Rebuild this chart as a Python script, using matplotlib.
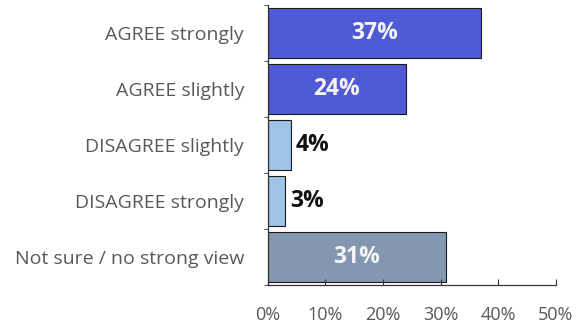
import matplotlib.pyplot as plt
from matplotlib.ticker import FuncFormatter

categories = ["AGREE strongly", "AGREE slightly", "DISAGREE slightly",
              "DISAGREE strongly", "Not sure / no strong view"]
values = [37, 24, 4, 3, 31]
bar_colors = ["#4F5BD5", "#4F5BD5", "#9DC3E6", "#9DC3E6", "#8497B0"]
label_inside = [True, True, False, False, True]
x_ticks = [0, 10, 20, 30, 40, 50]

plt.rcParams['font.family'] = ['Open Sans', 'DejaVu Sans']

fig = plt.figure(figsize=(5.81, 3.27), dpi=100)
ax = fig.add_axes([0.4608, 0.1284, 0.4957, 0.8563])

ypos = list(range(len(categories)))
ax.barh(ypos, values, height=0.89, color=bar_colors,
        edgecolor="#1a1a1a", linewidth=0.8)

for y, v, inside in zip(ypos, values, label_inside):
    if inside:
        ax.text(v / 2, y, f"{v}%", ha="center", va="center",
                color="#f4f4f4", fontsize=16.5, fontweight="bold")
    else:
        ax.text(v + 0.9, y, f"{v}%", ha="left", va="center",
                color="#111111", fontsize=16.5, fontweight="bold")

ax.set_xlim(0, 50)
ax.set_ylim(len(categories) - 0.5, -0.5)
ax.set_xticks(x_ticks)
ax.xaxis.set_major_formatter(FuncFormatter(lambda x, _: f"{x:.0f}%"))
ax.set_yticks(ypos)
ax.set_yticklabels(categories)

# category ticks sit on the boundaries between bars
ax.set_yticks([y + 0.5 for y in [-1] + ypos], minor=True)
ax.tick_params(axis="y", which="major", length=0, pad=17,
               labelsize=14, labelcolor="#595959")
ax.tick_params(axis="y", which="minor", length=3, direction="out",
               color="#333333")
ax.tick_params(axis="x", length=4, direction="in", color="#333333",
               labelsize=13, labelcolor="#595959", pad=15)

for side in ["top", "right"]:
    ax.spines[side].set_visible(False)
for side in ["left", "bottom"]:
    ax.spines[side].set_color("#333333")
    ax.spines[side].set_linewidth(0.9)

fig.savefig("out.png", dpi=100)
